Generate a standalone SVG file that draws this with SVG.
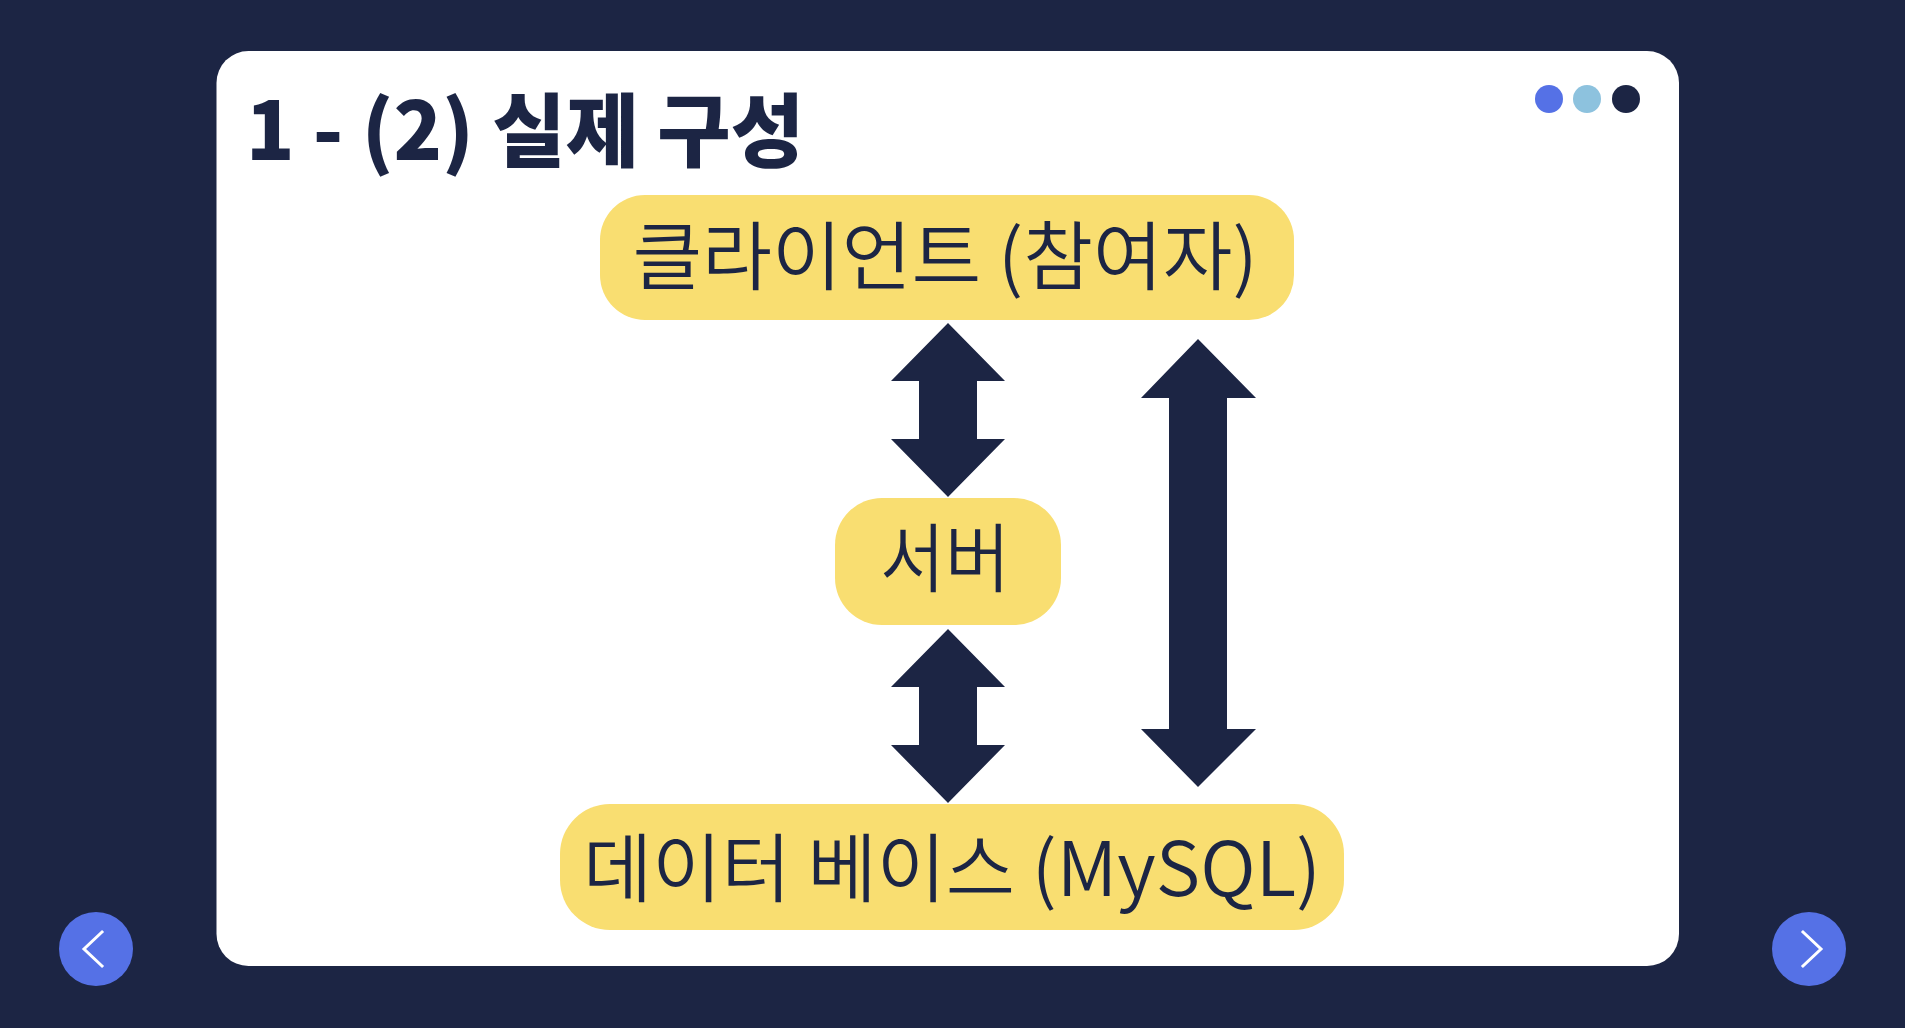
<svg xmlns="http://www.w3.org/2000/svg" width="1905" height="1028" viewBox="0 0 1905 1028">
  <style>
    .node { fill: #F9DE71; }
    .label { font-family: "Noto Sans CJK KR", "Noto Sans", sans-serif; font-size: 75px; font-weight: 350; fill: #1C2544; text-anchor: middle; }
    .title { font-family: "Noto Sans CJK KR", "Noto Sans", sans-serif; font-size: 80px; font-weight: 900; fill: #1C2544; }
    .arrow { fill: #1C2544; }
    .chev { fill: none; stroke: #FFFFFF; stroke-width: 3; stroke-linecap: square; }
  </style>
  <rect x="0" y="0" width="1905" height="1028" fill="#1C2544"/>
  <rect x="216.5" y="51" width="1462.5" height="915" rx="32" ry="32" fill="#FFFFFF"/>

  <g id="title">
    <text class="title" x="246" y="160" textLength="558" lengthAdjust="spacingAndGlyphs">1 - (2) 실제 구성</text>
  </g>

  <g id="window-dots">
    <circle cx="1549" cy="99" r="14" fill="#5571E6"/>
    <circle cx="1587" cy="99" r="14" fill="#8DC2DE"/>
    <circle cx="1626" cy="99" r="14" fill="#1C2544"/>
  </g>

  <g id="nav-prev">
    <circle cx="96" cy="949" r="37" fill="#5571E6"/>
    <polyline class="chev" points="102,932 84,949 102,966"/>
  </g>
  <g id="nav-next">
    <circle cx="1809" cy="949" r="37" fill="#5571E6"/>
    <polyline class="chev" points="1803,932 1821,949 1803,966"/>
  </g>

  <g id="connectors">
    <polygon class="arrow" points="948,323 1005,381 977,381 977,439 1005,439 948,497 891,439 919,439 919,381 891,381"/>
    <polygon class="arrow" points="948,629 1005,687 977,687 977,745 1005,745 948,803 891,745 919,745 919,687 891,687"/>
    <polygon class="arrow" points="1198,339 1256,398 1227,398 1227,729 1256,729 1198,787 1141,729 1169,729 1169,398 1141,398"/>
  </g>

  <g id="client">
    <rect class="node" x="600" y="195" width="694" height="125" rx="45" ry="45"/>
    <text class="label" x="945" y="284" textLength="625" lengthAdjust="spacingAndGlyphs">클라이언트 (참여자)</text>
  </g>

  <g id="server">
    <rect class="node" x="835" y="498" width="226" height="127" rx="47" ry="47"/>
    <text class="label" x="945" y="586" textLength="130" lengthAdjust="spacingAndGlyphs">서버</text>
  </g>

  <g id="database">
    <rect class="node" x="560" y="804" width="784" height="126" rx="50" ry="50"/>
    <text class="label" x="952" y="896" textLength="738" lengthAdjust="spacingAndGlyphs">데이터 베이스 (MySQL)</text>
  </g>
</svg>
